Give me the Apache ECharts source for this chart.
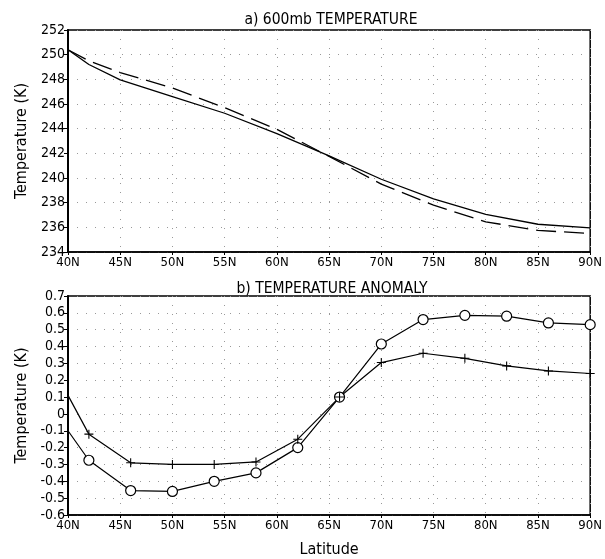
<!DOCTYPE html>
<html>
<head>
<meta charset="utf-8">
<script src="https://cdn.jsdelivr.net/npm/echarts@6/dist/echarts.min.js"></script>
<style>
  html, body { margin: 0; padding: 0; background: #fff; }
  #chart { width: 605px; height: 559px; }
</style>
</head>
<body>
<div id="chart"></div>
<script>
// panel a) 600mb temperature
var latTemp = [40, 42, 45, 50, 55, 60, 65, 70, 75, 80, 85, 90];
var tempSolid = [250.4, 249.2, 247.95, 246.6, 245.25, 243.6, 241.8, 239.9, 238.3, 237.05, 236.25, 235.95];
var tempDashed = [250.4, 249.5, 248.55, 247.3, 245.7, 243.95, 241.75, 239.5, 237.8, 236.45, 235.75, 235.5];

// panel b) temperature anomaly
var latAnom = [40, 42, 46, 50, 54, 58, 62, 66, 70, 74, 78, 82, 86, 90];
var anomCircle = [-0.1, -0.275, -0.455, -0.46, -0.4, -0.35, -0.2, 0.1, 0.415, 0.56, 0.585, 0.58, 0.54, 0.53];
var anomPlus = [0.11, -0.12, -0.29, -0.3, -0.3, -0.285, -0.15, 0.1, 0.305, 0.36, 0.33, 0.285, 0.255, 0.24];

var FONT = "'DejaVu Sans Condensed', 'DejaVu Sans'";
var plusSymbol = 'path://M0,4.4H10V5.6H0Z M4.4,0H5.6V10H4.4Z';

function pairs(xs, ys, firstNoSymbol) {
  var out = [];
  for (var i = 0; i < xs.length; i++) {
    if (firstNoSymbol && i === 0) out.push({ value: [xs[i], ys[i]], symbol: 'none' });
    else out.push([xs[i], ys[i]]);
  }
  return out;
}

function xAxisCfg(gridIndex) {
  return {
    type: 'value', gridIndex: gridIndex, min: 40, max: 90, interval: 5,
    axisLine: { onZero: false, lineStyle: { color: '#000', width: 1.5 } },
    axisTick: { inside: false, length: 3, lineStyle: { color: '#000' } },
    axisLabel: { color: '#000', fontFamily: FONT, fontSize: 13, margin: 4,
      formatter: function (v) { return v + 'N'; } },
    splitLine: { show: true, lineStyle: { color: '#999', type: [1, 8], width: 1 } }
  };
}

function yAxisCfg(gridIndex, min, max, interval, fmt) {
  return {
    type: 'value', gridIndex: gridIndex, min: min, max: max, interval: interval,
    name: 'Temperature (K)', nameLocation: 'middle', nameGap: 38,
    nameTextStyle: { color: '#000', fontFamily: FONT, fontSize: 16 },
    axisLine: { show: true, onZero: false, lineStyle: { color: '#000', width: 2 } },
    axisTick: { show: true, inside: false, length: 4, lineStyle: { color: '#000' } },
    axisLabel: { color: '#000', fontFamily: FONT, fontSize: 14, margin: 3, formatter: fmt },
    splitLine: { show: true, lineStyle: { color: '#999', type: [1, 8], width: 1 } }
  };
}

var chart = echarts.init(document.getElementById('chart'));

var xa = xAxisCfg(1);
xa.name = 'Latitude';
xa.nameLocation = 'middle';
xa.nameGap = 27;
xa.nameTextStyle = { color: '#000', fontFamily: FONT, fontSize: 16 };

chart.setOption({
  animation: false,
  backgroundColor: '#fff',
  title: [
    { text: 'a) 600mb TEMPERATURE', left: 326, top: 7, textAlign: 'center',
      textStyle: { fontFamily: FONT, fontSize: 15.5, fontWeight: 'normal', color: '#000' } },
    { text: 'b) TEMPERATURE ANOMALY', left: 327, top: 276, textAlign: 'center',
      textStyle: { fontFamily: FONT, fontSize: 15.5, fontWeight: 'normal', color: '#000' } }
  ],
  grid: [
    { left: 68, right: 12, top: 30, height: 222, show: true, borderColor: '#000', borderWidth: 1.5, backgroundColor: 'transparent' },
    { left: 68, right: 11, top: 296, height: 222, show: true, borderColor: '#000', borderWidth: 1.5, backgroundColor: 'transparent' }
  ],
  xAxis: [xAxisCfg(0), xa],
  yAxis: [
    yAxisCfg(0, 234, 252, 2, function (v) { return v; }),
    yAxisCfg(1, -0.6, 0.7, 0.1, function (v) {
      var r = Math.round(v * 10) / 10;
      return r === 0 ? '0' : r.toFixed(1);
    })
  ],
  series: [
    { type: 'line', xAxisIndex: 0, yAxisIndex: 0, data: pairs(latTemp, tempSolid), showSymbol: false,
      lineStyle: { color: '#000', width: 1.3 } },
    { type: 'line', xAxisIndex: 0, yAxisIndex: 0, data: pairs(latTemp, tempDashed), showSymbol: false,
      lineStyle: { color: '#000', width: 1.3, type: [20, 8] } },
    { type: 'line', xAxisIndex: 1, yAxisIndex: 1, data: pairs(latAnom, anomCircle, true),
      symbol: 'circle', symbolSize: 10,
      itemStyle: { color: '#fff', borderColor: '#000', borderWidth: 1.2 },
      lineStyle: { color: '#000', width: 1.2 } },
    { type: 'line', xAxisIndex: 1, yAxisIndex: 1, data: pairs(latAnom, anomPlus, true),
      symbol: plusSymbol, symbolSize: 9,
      itemStyle: { color: '#000' },
      lineStyle: { color: '#000', width: 1.2 } }
  ]
});
</script>
</body>
</html>
